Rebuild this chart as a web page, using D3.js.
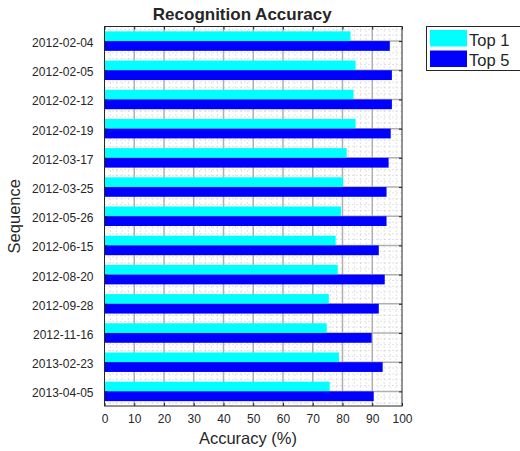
<!DOCTYPE html>
<html>
<head>
<meta charset="utf-8">
<script src="https://cdn.jsdelivr.net/npm/d3@7"></script>
<style>
  html, body { margin: 0; padding: 0; background: #fff; }
  svg { display: block; }
  text { font-family: "Liberation Sans", Arial, Helvetica, sans-serif; fill: #262626; }
</style>
</head>
<body>
<svg id="chart" width="520" height="451"></svg>
<script>
const categories = ['2012-02-04', '2012-02-05', '2012-02-12', '2012-02-19', '2012-03-17', '2012-03-25',
  '2012-05-26', '2012-06-15', '2012-08-20', '2012-09-28', '2012-11-16', '2013-02-23', '2013-04-05'];
const top1 = [82.7, 84.4, 83.7, 84.4, 81.4, 80.2, 79.5, 77.7, 78.4, 75.4, 74.7, 78.8, 75.7];
const top5 = [95.9, 96.6, 96.6, 96.2, 95.5, 94.8, 94.8, 92.2, 94.2, 92.2, 89.8, 93.5, 90.5];
const seriesNames = ['Top 1', 'Top 5'];
const seriesColors = ['#00ffff', '#0000ff'];
const xTicks = d3.range(0, 101, 10);

const svg = d3.select('#chart');
const L = 104.5, R = 402, T = 26.5, B = 406;
const x = d3.scaleLinear().domain([0, 100]).range([L, R]);
const y = d3.scaleLinear().domain([0.5, categories.length + 0.5]).range([T, B]);
const band = y(2) - y(1);
const barH = band * 0.334;

// minor grid
const g = svg.append('g');
const xMinor = d3.range(0, 101, 2).filter(v => v % 10 !== 0);
g.selectAll('.xminor').data(xMinor).enter().append('line')
  .attr('x1', d => x(d)).attr('x2', d => x(d)).attr('y1', T).attr('y2', B)
  .attr('stroke', '#c4c4c4').attr('stroke-width', 1).attr('stroke-dasharray', '1,3');
const yMinor = d3.range(0.6, categories.length + 0.5, 0.2).filter(v => Math.abs(v - Math.round(v)) > 0.05);
g.selectAll('.yminor').data(yMinor).enter().append('line')
  .attr('x1', L).attr('x2', R).attr('y1', d => y(d)).attr('y2', d => y(d))
  .attr('stroke', '#c4c4c4').attr('stroke-width', 1).attr('stroke-dasharray', '1,3');
// major grid
g.selectAll('.xmajor').data(xTicks.slice(1, -1)).enter().append('line')
  .attr('x1', d => x(d)).attr('x2', d => x(d)).attr('y1', T).attr('y2', B)
  .attr('stroke', '#b0b0b0').attr('stroke-width', 1.5);
g.selectAll('.ymajor').data(categories).enter().append('line')
  .attr('x1', L).attr('x2', R).attr('y1', (d, i) => y(i + 1)).attr('y2', (d, i) => y(i + 1))
  .attr('stroke', '#b0b0b0').attr('stroke-width', 1.5);

// bars
const bars = svg.append('g');
[top1, top5].forEach((vals, s) => {
  bars.selectAll('.b' + s).data(vals).enter().append('rect')
    .attr('x', x(0))
    .attr('y', (d, i) => s === 0 ? y(i + 1) - barH : y(i + 1))
    .attr('width', d => x(d) - x(0))
    .attr('height', barH)
    .attr('fill', seriesColors[s]);
});

// axes box
svg.append('rect').attr('x', L).attr('y', T).attr('width', R - L).attr('height', B - T)
  .attr('fill', 'none').attr('stroke', '#262626').attr('stroke-width', 1);

// x axis (bottom) with inward ticks
const xAxis = d3.axisBottom(x).tickValues(xTicks).tickSize(-3).tickPadding(8);
const xa = svg.append('g').attr('transform', `translate(0,${B})`).call(xAxis);
xa.select('.domain').remove();
xa.selectAll('line').attr('stroke', '#262626');
xa.selectAll('text').attr('font-size', '12px').attr('fill', '#262626')
  .style('font-family', '"Liberation Sans", Arial, sans-serif');
const xt = svg.append('g').attr('transform', `translate(0,${T})`)
  .call(d3.axisTop(x).tickValues(xTicks).tickSize(-3).tickFormat(''));
xt.select('.domain').remove();
xt.selectAll('line').attr('stroke', '#262626');

// y axis (left)
const yAxis = d3.axisLeft(y).tickValues(d3.range(1, categories.length + 1))
  .tickFormat(d => categories[d - 1]).tickSize(-3).tickPadding(11);
const ya = svg.append('g').attr('transform', `translate(${L},0)`).call(yAxis);
ya.select('.domain').remove();
ya.selectAll('line').attr('stroke', '#262626');
ya.selectAll('text').attr('font-size', '12px').attr('fill', '#262626').attr('dy', '0.45em')
  .style('font-family', '"Liberation Sans", Arial, sans-serif');
const yr = svg.append('g').attr('transform', `translate(${R},0)`)
  .call(d3.axisRight(y).tickValues(d3.range(1, categories.length + 1)).tickSize(-3).tickFormat(''));
yr.select('.domain').remove();
yr.selectAll('line').attr('stroke', '#262626');

// title and labels
svg.append('text').attr('x', (L + R) / 2 - 11).attr('y', 20).attr('text-anchor', 'middle')
  .attr('font-size', '17px').attr('font-weight', 'bold').attr('fill', '#000').text('Recognition Accuracy');
svg.append('text').attr('x', 248).attr('y', 444).attr('text-anchor', 'middle')
  .attr('font-size', '16.5px').text('Accuracy (%)');
svg.append('text').attr('transform', `translate(20,${(T + B) / 2}) rotate(-90)`).attr('text-anchor', 'middle')
  .attr('font-size', '16.5px').text('Sequence');

// legend
const lg = svg.append('g');
lg.append('rect').attr('x', 426.5).attr('y', 26.5).attr('width', 110).attr('height', 44)
  .attr('fill', '#fff').attr('stroke', '#262626').attr('stroke-width', 1);
seriesNames.forEach((name, i) => {
  lg.append('rect').attr('x', 430).attr('y', 30 + i * 20.5).attr('width', 37).attr('height', 16.5)
    .attr('fill', seriesColors[i]);
  lg.append('text').attr('x', 469).attr('y', 45.5 + i * 20.5).attr('font-size', '16.5px')
    .attr('fill', '#000').text(name);
});
</script>
</body>
</html>
